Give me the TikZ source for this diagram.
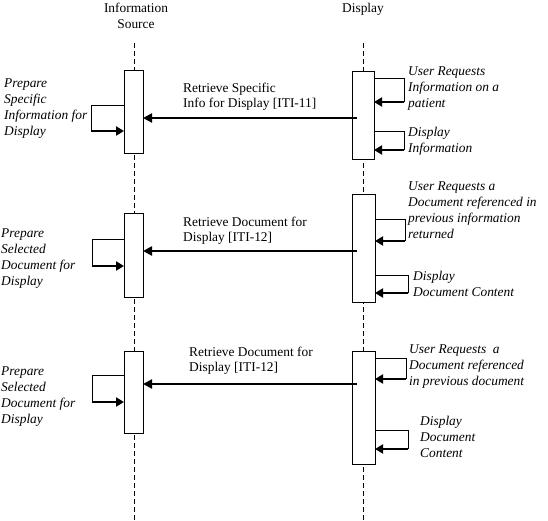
\documentclass[tikz,border=0pt]{standalone}
\usepackage{fontspec}
\setmainfont{Liberation Serif}
\usetikzlibrary{arrows.meta}
\begin{document}
\begin{tikzpicture}[x=1pt,y=-1pt,
  actbox/.style={draw, fill=white, line width=0.9pt, inner sep=0pt, outer sep=0pt, anchor=north west},
  life/.style={line width=1.7pt, dash pattern=on 5pt off 3pt},
  thinl/.style={line width=0.9pt},
  selfarr/.style={line width=2.4pt, -{Triangle[length=8pt,width=9pt]}},
  msg/.style={line width=2.8pt, -{Triangle[length=9pt,width=9pt]}},
  hdr/.style={font=\fontsize{13.4}{16}\selectfont, align=center, inner sep=0pt},
  note/.style={font=\fontsize{13.4}{16}\selectfont\itshape, align=left, inner sep=0pt, anchor=north west},
  lbl/.style={font=\fontsize{13.4}{15}\selectfont, align=left, inner sep=0pt, anchor=north west}]
\useasboundingbox (0,0) rectangle (548,521);

% headers
\node[hdr, anchor=north] (hsrc) at (136,3) {Information\\Source};
\node[hdr, anchor=north] (hdis) at (363,3) {Display};

% lifelines
\coordinate (srcTop) at (134.5,43);
\coordinate (srcBot) at (134.5,521);
\coordinate (disTop) at (363.5,43);
\coordinate (disBot) at (363.5,521);
\draw[life] (srcTop) -- (srcBot);
\draw[life] (disTop) -- (disBot);

% activation boxes
\node[actbox, minimum width=19pt, minimum height=83pt] (L1) at (124,70) {};
\node[actbox, minimum width=22pt, minimum height=88pt] (R1) at (352,71) {};
\node[actbox, minimum width=19pt, minimum height=84pt] (L2) at (124,213) {};
\node[actbox, minimum width=23pt, minimum height=108pt] (R2) at (352,194) {};
\node[actbox, minimum width=19pt, minimum height=82pt] (L3) at (124,351) {};
\node[actbox, minimum width=23pt, minimum height=113pt] (R3) at (352,351) {};

% main messages
\coordinate (m1) at (357,118);
\coordinate (m2) at (357,251);
\coordinate (m3) at (357,384);
\draw[msg] (m1) -- (L1.east |- m1);
\draw[msg] (m2) -- (L2.east |- m2);
\draw[msg] (m3) -- (L3.east |- m3);
\node[lbl] (t1) at (183,83) {Retrieve Specific\\Info for Display [ITI-11]};
\node[lbl] (t2) at (183,217) {Retrieve Document for\\Display [ITI-12]};
\node[lbl] (t3) at (189,347) {Retrieve Document for\\Display [ITI-12]};

% self messages on Display
\coordinate (r1at) at (404,78);  \coordinate (r1ab) at (404,102);
\coordinate (r1bt) at (404,131); \coordinate (r1bb) at (404,150);
\coordinate (r2at) at (405,219); \coordinate (r2ab) at (405,241);
\coordinate (r2bt) at (408,275); \coordinate (r2bb) at (408,293);
\coordinate (r3at) at (406,358); \coordinate (r3ab) at (406,379);
\coordinate (r3bt) at (408,430); \coordinate (r3bb) at (408,449);
\foreach \b/\s in {R1/r1a, R1/r1b, R2/r2a, R2/r2b, R3/r3a, R3/r3b}{
  \draw[thinl] (\b.east |- \s t) -- (\s t) -- (\s b);
  \draw[selfarr] (\s b) -- (\b.east |- \s b);
}

% self messages on Information Source
\coordinate (l1t) at (91,105);  \coordinate (l1b) at (91,131);
\coordinate (l2t) at (92,239);  \coordinate (l2b) at (92,266);
\coordinate (l3t) at (92,375);  \coordinate (l3b) at (92,402);
\foreach \b/\s in {L1/l1, L2/l2, L3/l3}{
  \draw[thinl] (\b.west |- \s t) -- (\s t) -- (\s b);
  \draw[selfarr] (\s b) -- (\b.west |- \s b);
}

% notes
\node[note] (n1) at (4,79) {Prepare\\Specific\\Information for\\Display};
\node[note] (n2) at (1,229) {Prepare\\Selected\\Document for\\Display};
\node[note] (n3) at (1,367) {Prepare\\Selected\\Document for\\Display};
\node[note] (n4) at (408,67) {User Requests\\Information on a\\patient};
\node[note] (n5) at (408,127) {Display\\Information};
\node[note] (n6) at (408,182) {User Requests a\\Document referenced in\\previous information\\returned};
\node[note] (n7) at (413,271) {Display\\Document Content};
\node[note] (n8) at (409,345) {User Requests \ a\\Document referenced\\in previous document};
\node[note] (n9) at (420,416) {Display\\Document\\Content};
\end{tikzpicture}
\end{document}
